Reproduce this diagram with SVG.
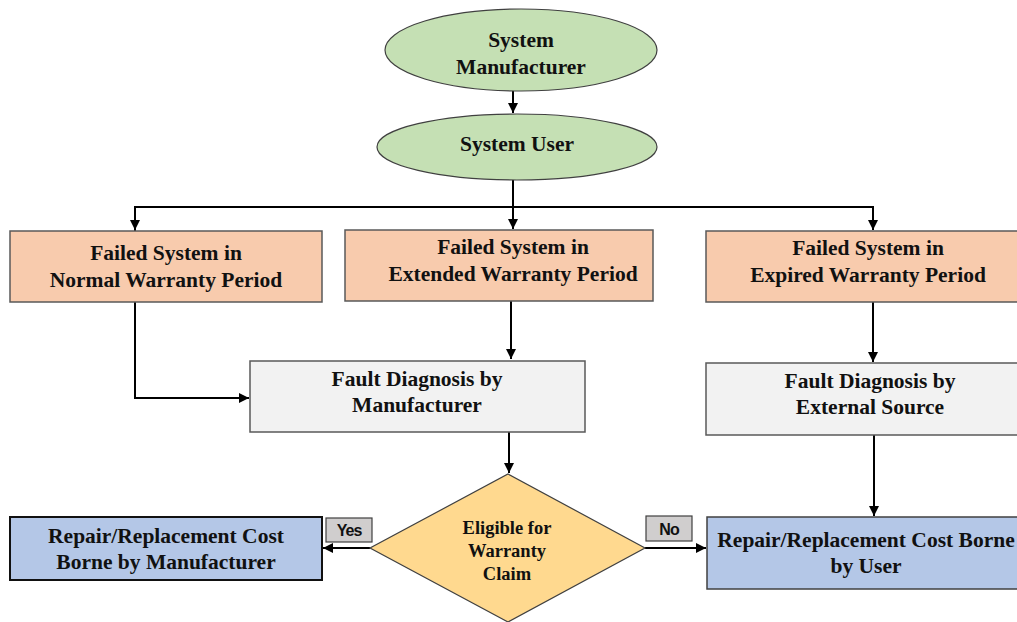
<svg xmlns="http://www.w3.org/2000/svg" width="1017" height="622" viewBox="0 0 1017 622">
<style>
.t{font-family:"Liberation Serif","Times New Roman",serif;font-weight:bold;font-size:21.5px;fill:#111;text-anchor:middle}
.d{font-size:18.5px}
.lbl{font-family:"Liberation Sans",Arial,sans-serif;font-weight:bold;font-size:16px;fill:#111;text-anchor:middle;letter-spacing:-1px}
.ell{fill:#c5e0b4;stroke:#404040;stroke-width:1.2}
.org{fill:#f8cbad;stroke:#595959;stroke-width:1.5}
.gry{fill:#f2f2f2;stroke:#595959;stroke-width:1.5}
.blu{fill:#b4c7e7;stroke:#404040;stroke-width:1.5}
.lb{fill:#d0cece;stroke:#404040;stroke-width:1.2}
.c{fill:none;stroke:#000;stroke-width:2}
</style>
<defs>
<marker id="ah" viewBox="0 0 10 10" refX="10" refY="5" markerWidth="5" markerHeight="5" orient="auto" markerUnits="strokeWidth">
<path d="M0,0 L10,5 L0,10 z" fill="#000"/>
</marker>
</defs>
<rect width="1017" height="622" fill="#fff"/>
<g id="connectors">
<path class="c" d="M513,90 V113" marker-end="url(#ah)"/>
<path class="c" d="M513,180 V229" marker-end="url(#ah)"/>
<path class="c" d="M135,231 V207 H873 V230" marker-end="url(#ah)"/>
<path class="c" d="M135,207 V230" marker-end="url(#ah)"/>
<path class="c" d="M511,301 V359" marker-end="url(#ah)"/>
<path class="c" d="M135,302 V398 H249" marker-end="url(#ah)"/>
<path class="c" d="M873,302 V362" marker-end="url(#ah)"/>
<path class="c" d="M509,432 V473" marker-end="url(#ah)"/>
<path class="c" d="M874,435 V516" marker-end="url(#ah)"/>
<path class="c" d="M370,548 H323" marker-end="url(#ah)"/>
<path class="c" d="M645,548 H706" marker-end="url(#ah)"/>
</g>
<g id="manufacturer">
<ellipse class="ell" cx="521" cy="50" rx="136" ry="41"/>
<text class="t" x="521" y="47">System</text>
<text class="t" x="521" y="74">Manufacturer</text>
</g>
<g id="user">
<ellipse class="ell" cx="517" cy="147" rx="140" ry="33"/>
<text class="t" x="517" y="151">System User</text>
</g>
<g id="normal">
<rect class="org" x="10" y="231" width="312" height="71"/>
<text class="t" x="166" y="260">Failed System in</text>
<text class="t" x="166" y="287">Normal Warranty Period</text>
</g>
<g id="extended">
<rect class="org" x="345" y="230" width="308" height="71"/>
<text class="t" x="513" y="254">Failed System in</text>
<text class="t" x="513" y="281">Extended Warranty Period</text>
</g>
<g id="expired">
<rect class="org" x="706" y="231" width="324" height="71"/>
<text class="t" x="868" y="255">Failed System in</text>
<text class="t" x="868" y="282">Expired Warranty Period</text>
</g>
<g id="diag-manufacturer">
<rect class="gry" x="250" y="361" width="335" height="71"/>
<text class="t" x="417" y="386">Fault Diagnosis by</text>
<text class="t" x="417" y="412">Manufacturer</text>
</g>
<g id="diag-external">
<rect class="gry" x="706" y="363" width="324" height="72"/>
<text class="t" x="870" y="388">Fault Diagnosis by</text>
<text class="t" x="870" y="414">External Source</text>
</g>
<g id="eligible">
<polygon points="508,474 645,548 508,622 370,548" fill="#ffd98f" stroke="#404040" stroke-width="1.2"/>
<text class="t d" x="507" y="534">Eligible for</text>
<text class="t d" x="507" y="557">Warranty</text>
<text class="t d" x="507" y="580">Claim</text>
</g>
<g id="cost-manufacturer">
<rect x="10" y="517" width="312" height="63" fill="#b4c7e7" stroke="#111" stroke-width="2"/>
<text class="t" x="166" y="543">Repair/Replacement Cost</text>
<text class="t" x="166" y="569">Borne by Manufacturer</text>
</g>
<g id="cost-user">
<rect class="blu" x="707" y="517" width="323" height="72"/>
<text class="t" x="866" y="547">Repair/Replacement Cost Borne</text>
<text class="t" x="866" y="573">by User</text>
</g>
<g id="yes-label">
<rect class="lb" x="326" y="518" width="46" height="24"/>
<text class="lbl" x="349" y="536">Yes</text>
</g>
<g id="no-label">
<rect class="lb" x="646" y="516" width="46" height="25"/>
<text class="lbl" x="669" y="535">No</text>
</g>
</svg>
